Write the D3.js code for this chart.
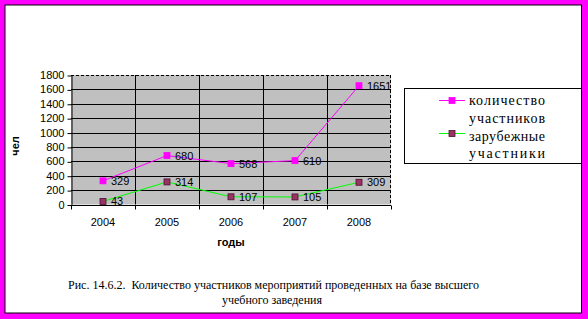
<!DOCTYPE html>
<html><head><meta charset="utf-8">
<script src="https://cdn.jsdelivr.net/npm/d3@7"></script>
<style>body{margin:0;background:#fff}svg{display:block}</style>
</head><body>
<script>
const years = ["2004","2005","2006","2007","2008"];
const participants = [329, 680, 568, 610, 1651];
const foreign = [43, 314, 107, 105, 309];
const yTicks = [0,200,400,600,800,1000,1200,1400,1600,1800];
const seriesNames = [["количество","участников"],["зарубежные","участники"]];
const captionLines = ["Рис. 14.6.2.  Количество участников мероприятий проведенных на базе высшего","учебного заведения"];

const W=588,H=319;
const svg=d3.select("body").append("svg").attr("width",W).attr("height",H);
svg.append("rect").attr("width",W).attr("height",H).attr("fill","#ff00ff");
svg.append("rect").attr("x",5).attr("y",5).attr("width",576.5).attr("height",308).attr("fill","#fff").attr("stroke","#000").attr("stroke-width",1);

const x=d3.scaleBand().domain(years).range([71,391]);
const y=d3.scaleLinear().domain([0,1800]).range([204.5,75]);
const cx=d=>x(d)+x.bandwidth()/2;

// plot area
svg.append("rect").attr("x",71).attr("y",y(1800)).attr("width",320).attr("height",y(0)-y(1800)).attr("fill","#c0c0c0");
// horizontal grid
svg.append("g").selectAll("line").data(yTicks.filter(v=>v>0)).join("line")
 .attr("x1",71).attr("x2",391).attr("y1",d=>Math.round(y(d))+0.5).attr("y2",d=>Math.round(y(d))+0.5)
 .attr("stroke","#000").attr("stroke-dasharray",d=>d===1800?"3,2":null);
// vertical grid
svg.append("g").selectAll("line").data(years.slice(1)).join("line")
 .attr("x1",d=>Math.round(x(d))+0.5).attr("x2",d=>Math.round(x(d))+0.5).attr("y1",y(1800)).attr("y2",y(0))
 .attr("stroke","#000");
svg.append("line").attr("x1",390.5).attr("x2",390.5).attr("y1",y(1800)).attr("y2",y(0)).attr("stroke","#000").attr("stroke-dasharray","3,2");

// y axis
const ya=svg.append("g").attr("transform","translate(71.5,0)").call(d3.axisLeft(y).tickValues(yTicks).tickFormat(d3.format("d")).tickSize(4).tickSizeOuter(0).tickPadding(3));
ya.selectAll("text").attr("font-family","Liberation Sans, Arial").attr("font-size",11).attr("fill","#000");
ya.selectAll("line,path").attr("stroke","#000");
ya.selectAll(".tick line").attr("transform","translate(0,0.5)");
// x axis
const xa=svg.append("g").attr("transform",`translate(0,${Math.round(y(0))+0.5})`);
xa.append("line").attr("x1",71).attr("x2",391).attr("stroke","#000");
xa.selectAll(".t").data(years.concat(["end"])).join("line").attr("class","t")
 .attr("x1",(d,i)=>Math.round(71+i*x.bandwidth())+0.5).attr("x2",(d,i)=>Math.round(71+i*x.bandwidth())+0.5).attr("y1",0).attr("y2",4).attr("stroke","#000");
xa.selectAll("text").data(years).join("text").attr("x",d=>cx(d)).attr("y",20).attr("text-anchor","middle")
 .attr("font-family","Liberation Sans, Arial").attr("font-size",11).text(d=>d);

// axis titles
svg.append("text").attr("transform","translate(19,146) rotate(-90)").attr("text-anchor","middle")
 .attr("font-family","Liberation Sans, Arial").attr("font-size",11).attr("font-weight","bold").text("чел");
svg.append("text").attr("x",231).attr("y",246).attr("text-anchor","middle")
 .attr("font-family","Liberation Sans, Arial").attr("font-size",11).attr("font-weight","bold").text("годы");

const series=[{v:participants,line:"#ff00ff",fill:"#ff00ff",stroke:"#ff00ff"},{v:foreign,line:"#00ff00",fill:"#993366",stroke:"#4b0f2e"}];
const line=d3.line().x((d,i)=>cx(years[i])).y(d=>y(d));
series.forEach(s=>{
  svg.append("path").attr("d",line(s.v)).attr("fill","none").attr("stroke",s.line).attr("stroke-width",1);
});
series.forEach(s=>{
  svg.append("g").selectAll("rect").data(s.v).join("rect")
   .attr("x",(d,i)=>cx(years[i])-3).attr("y",d=>y(d)-3).attr("width",6).attr("height",6)
   .attr("fill",s.fill).attr("stroke",s.stroke).attr("stroke-width",0.8);
  svg.append("g").selectAll("text").data(s.v).join("text")
   .attr("x",(d,i)=>cx(years[i])+8).attr("y",d=>y(d)+4)
   .attr("font-family","Liberation Sans, Arial").attr("font-size",11).text(d=>d);
});

// legend
svg.append("rect").attr("x",404.5).attr("y",88.5).attr("width",177).attr("height",75).attr("fill","#fff").attr("stroke","#000");
const lg=[{y:100,ty:[105,123],s:series[0]},{y:133,ty:[141,158],s:series[1]}];
lg.forEach((l,i)=>{
  svg.append("line").attr("x1",439).attr("x2",465).attr("y1",l.y+0.5).attr("y2",l.y+0.5).attr("stroke",l.s.line);
  svg.append("rect").attr("x",449).attr("y",l.y-2.5).attr("width",6).attr("height",6).attr("fill",l.s.fill).attr("stroke",l.s.stroke).attr("stroke-width",0.8);
  seriesNames[i].forEach((t,j)=>{
    svg.append("text").attr("x",469).attr("y",l.ty[j]).attr("font-family","Liberation Serif, Times New Roman").attr("font-size",14).attr("textLength",t.length>10?78:76).attr("lengthAdjust","spacing").text(t);
  });
});

// caption
svg.append("text").attr("x",68).attr("y",289).attr("xml:space","preserve").style("white-space","pre").attr("font-family","Liberation Serif, Times New Roman").attr("font-size",12).text(captionLines[0]);
svg.append("text").attr("x",272).attr("y",304).attr("text-anchor","middle").attr("font-family","Liberation Serif, Times New Roman").attr("font-size",12).text(captionLines[1]);
</script>
</body></html>
